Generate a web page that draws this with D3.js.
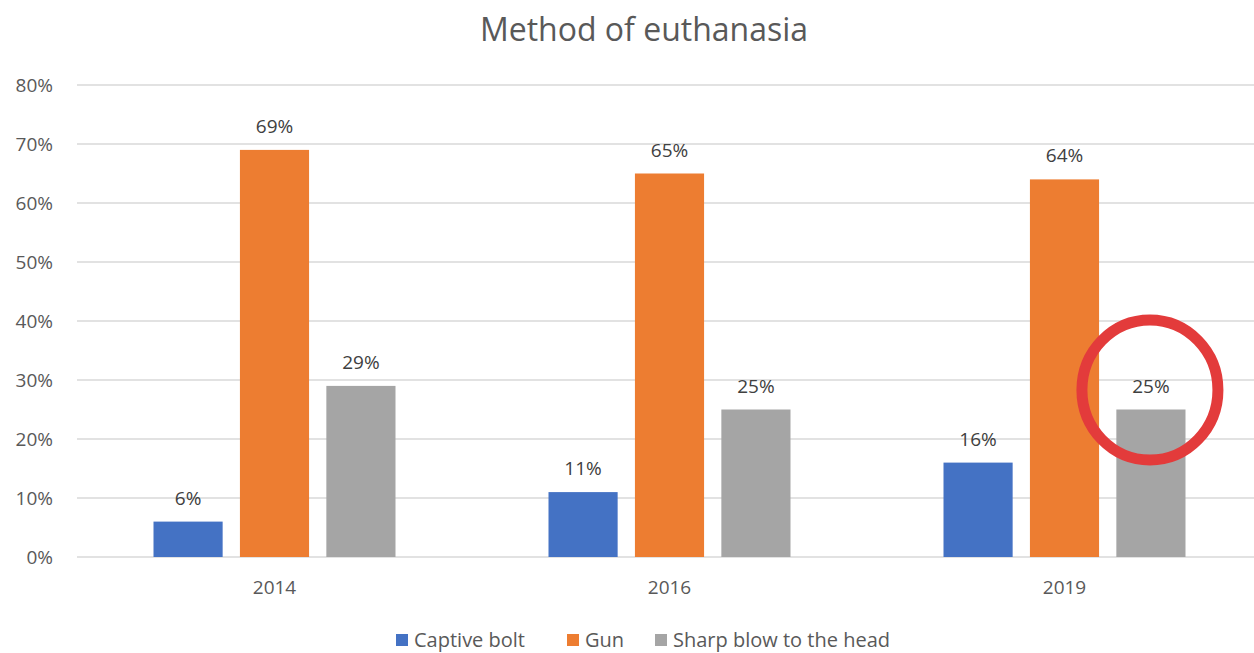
<!DOCTYPE html>
<html lang="en">
<head>
    <meta charset="UTF-8" />
    <title>Method of euthanasia</title>
    <style>
        body, html {
            margin: 0;
            padding: 0;
            background-color: white;
        }
        svg text {
            font-family: "Open Sans", "Noto Sans", sans-serif;
        }
    </style>
</head>
<body>
    <svg id="svg" width="1254" height="653"></svg>
    <script src="https://cdn.jsdelivr.net/npm/d3@7"></script>
    <script>
        // Chart data
        const years = ["2014", "2016", "2019"];
        const methods = ["Captive bolt", "Gun", "Sharp blow to the head"];
        const captiveBolt = [6, 11, 16];
        const gun = [69, 65, 64];
        const sharpBlow = [29, 25, 25];
        const yTicks = [0, 10, 20, 30, 40, 50, 60, 70, 80];
        const colors = ["#4472c4", "#ed7d31", "#a5a5a5"];

        const series = [captiveBolt, gun, sharpBlow];

        const svg = d3.select("#svg");

        const xScale = d3.scaleBand()
            .domain(years)
            .range([77, 1262]);

        const xInner = d3.scaleBand()
            .domain(methods)
            .range([0, 242])
            .paddingInner(0.2);

        const yScale = d3.scaleLinear()
            .domain([0, 80])
            .range([557, 85]);

        // title
        svg.append("text")
            .attr("x", 644)
            .attr("y", 41)
            .attr("text-anchor", "middle")
            .attr("fill", "#595959")
            .style("font-size", "32px")
            .text("Method of euthanasia");

        // gridlines
        svg.append("g")
            .selectAll("line")
            .data(yTicks)
            .enter()
            .append("line")
            .attr("x1", 77)
            .attr("x2", 1254)
            .attr("y1", (d) => yScale(d))
            .attr("y2", (d) => yScale(d))
            .attr("stroke", "#d9d9d9")
            .attr("stroke-width", 1.5);

        // y-axis labels
        const yAxis = svg.append("g")
            .attr("transform", "translate(57,0)")
            .call(d3.axisLeft(yScale).tickValues(yTicks).tickSize(0).tickPadding(4).tickFormat((d) => d + "%"));
        yAxis.select(".domain").remove();
        yAxis.selectAll("text")
            .attr("fill", "#595959")
            .style("font-size", "19px")
            .style("font-family", "'Open Sans', sans-serif");

        // x-axis labels
        const xAxis = svg.append("g")
            .attr("transform", "translate(0,557)")
            .call(d3.axisBottom(xScale).tickSize(0).tickPadding(24));
        xAxis.select(".domain").remove();
        xAxis.selectAll("text")
            .attr("fill", "#595959")
            .style("font-size", "19px")
            .style("font-family", "'Open Sans', sans-serif");

        // bars
        const groups = svg.selectAll(".year")
            .data(years)
            .enter()
            .append("g")
            .attr("class", "year")
            .attr("transform", (d) => `translate(${xScale(d) + (xScale.bandwidth() - 242) / 2},0)`);

        methods.forEach((m, i) => {
            groups.append("rect")
                .attr("x", xInner(m))
                .attr("y", (d, j) => yScale(series[i][j]))
                .attr("width", xInner.bandwidth())
                .attr("height", (d, j) => yScale(0) - yScale(series[i][j]))
                .attr("fill", colors[i]);

            groups.append("text")
                .attr("x", xInner(m) + xInner.bandwidth() / 2)
                .attr("y", (d, j) => yScale(series[i][j]) - 17)
                .attr("text-anchor", "middle")
                .attr("fill", "#404040")
                .style("font-size", "19px")
                .text((d, j) => series[i][j] + "%");
        });

        // red circle highlight around 2019 sharp blow
        const hx = xScale("2019") + (xScale.bandwidth() - 242) / 2 + xInner(methods[2]) + xInner.bandwidth() / 2;
        svg.append("ellipse")
            .attr("cx", hx - 1)
            .attr("cy", yScale(28.3))
            .attr("rx", 68)
            .attr("ry", 70)
            .attr("fill", "none")
            .attr("stroke", "#e33b3b")
            .attr("stroke-width", 11);

        // legend
        const legendX = [396, 567, 655];
        const legend = svg.append("g");
        methods.forEach((m, i) => {
            legend.append("rect")
                .attr("x", legendX[i])
                .attr("y", 634)
                .attr("width", 12)
                .attr("height", 12)
                .attr("fill", colors[i]);
            legend.append("text")
                .attr("x", legendX[i] + 18)
                .attr("y", 647)
                .attr("fill", "#595959")
                .style("font-size", "20px")
                .text(m);
        });
    </script>
</body>
</html>
